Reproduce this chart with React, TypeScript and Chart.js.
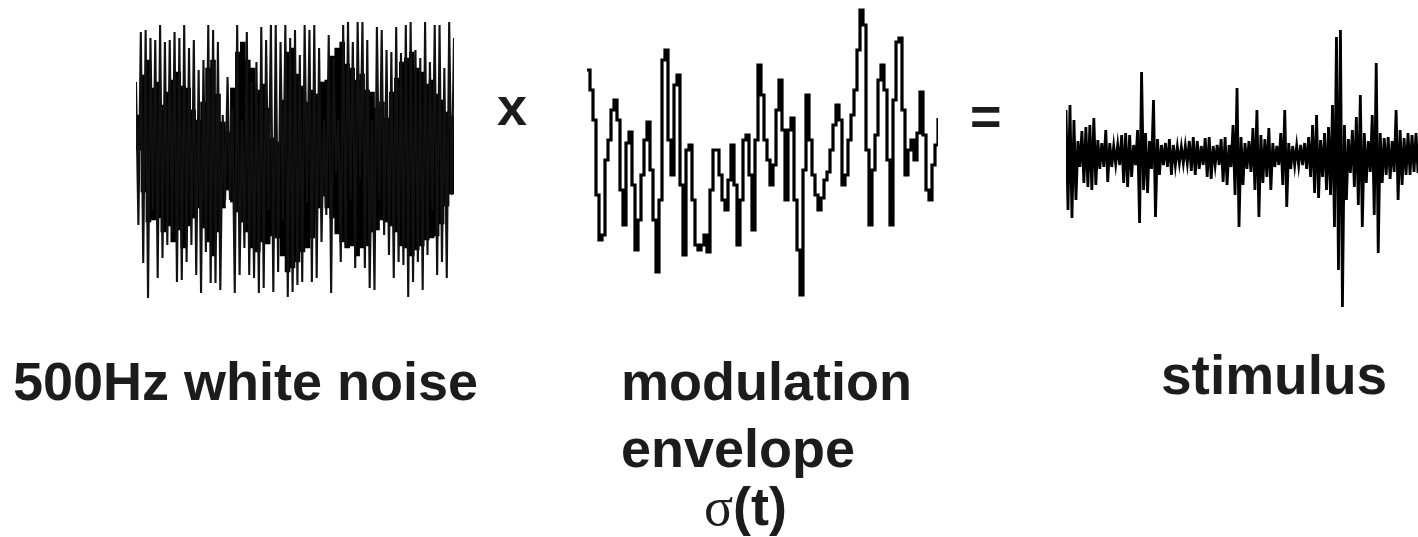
import { useEffect, useRef } from "react";
import { Chart, registerables } from "chart.js";

Chart.register(...registerables);

// 500 Hz white noise carrier: successive excursions of the trace (up > 0, down < 0)
const noiseSamples = [
  78, -65, 128, -103, 130, -138, 122, -50, 120, -118,
  135, -98, 118, -85, 120, -72, 128, -122, 122, -120,
  135, -102, 112, -85, 120, -115, 90, -133, 100, -92,
  135, -123, 130, -123, 118, -130, 45, -40, 83, -40,
  52, -133, 135, -115, 40, -88, 128, -115, 78, -118,
  98, -133, 133, -128, 120, -50, 135, -132, 135, -112,
  118, -60, 135, -137, 122, -132, 130, -125, 105, -122,
  135, -42, 130, -122, 135, -118, 112, -82, 40, -55,
  125, -133, 102, -12, 40, -102, 135, -85, 138, -40,
  118, -108, 138, -18, 138, -108, 120, -128, 40, -130,
  133, -40, 130, -75, 110, -95, 108, -118, 133, -102,
  107, -105, 135, -137, 138, -122, 110, -102, 102, -130,
  138, -95, 98, -50, 135, -115, 135, -102, 92, -118,
  138, -35, 122,
];

// Dense central band of the noise trace, block by block
const noiseBandHigh = [
  45, 85, 100, 72, 78, 55, 68, 80, 88, 74,
  72, 50, 40, 58, 92, 100, 66, 38, 28, 72,
  108, 118, 100, 92, 70, 76, 52, 22, 18, 60,
  108, 112, 86, 74, 58, 70, 66, 78, 80, 104,
  112, 118, 96, 92, 80, 86, 70, 68, 52, 58,
  42, 68, 82, 98, 102, 108, 92, 88, 76, 80,
  66, 60, 48, 44,
];
const noiseBandLow = [
  10, -32, -62, -60, -58, -72, -66, -82, -70, -88,
  -66, -58, -48, -68, -82, -96, -72, -48, -30, -42,
  -52, -62, -72, -88, -92, -82, -84, -76, -78, -96,
  -112, -108, -102, -92, -88, -78, -48, -36, -48, -58,
  -74, -82, -88, -86, -96, -88, -86, -72, -70, -60,
  -62, -66, -72, -86, -88, -96, -90, -86, -80, -78,
  -76, -64, -46, -34,
];

// Modulation envelope sigma(t), one value per step
const envelopeSigma = [
  235, 215, 185, 110, 65, 70, 145, 165, 195, 205,
  185, 115, 80, 162, 173, 120, 55, 85, 130, 165,
  183, 135, 85, 33, 105, 245, 255, 165, 130, 220,
  230, 120, 50, 155, 160, 105, 60, 55, 60, 70,
  53, 115, 155, 155, 130, 105, 95, 125, 160, 120,
  60, 105, 165, 170, 130, 75, 165, 240, 210, 165,
  145, 120, 140, 195, 225, 175, 105, 175, 187, 105,
  55, 10, 135, 210, 165, 130, 110, 95, 107, 125,
  133, 155, 180, 200, 185, 120, 130, 165, 190, 215,
  255, 295, 280, 155, 80, 135, 170, 225, 240, 215,
  145, 80, 205, 263, 267, 195, 130, 155, 165, 145,
  172, 213, 170, 115, 105, 140, 160, 187,
];

// Resulting stimulus (noise x envelope), alternating up / down excursions
const stimulusSamples = [
  45, -55, 50, -63, 35, -45, 14, -12, 24, -28,
  28, -32, 30, -35, 37, -30, 15, -14, 12, -12,
  25, -27, 12, -12, 9, -9, 10, -10, 20, -28,
  22, -32, 20, -22, 10, -10, 25, -68, 83, -35,
  22, -38, 14, -14, 55, -62, 16, -20, 10, -10,
  12, -12, 16, -20, 10, -10, 8, -8, 8, -8,
  9, -8, 14, -16, 18, -20, 14, -14, 9, -10,
  17, -22, 18, -24, 9, -10, 10, -10, 16, -27,
  18, -30, 10, -12, 30, -40, 67, -72, 18, -30,
  12, -14, 14, -17, 27, -35, 45, -62, 20, -28,
  16, -22, 27, -35, 12, -12, 9, -10, 22, -30,
  45, -52, 12, -14, 9, -10, 9, -10, 10, -10,
  12, -14, 18, -22, 30, -38, 40, -43, 15, -22,
  22, -35, 28, -40, 50, -72, 118, -115, 125, -152,
  30, -45, 16, -18, 25, -32, 38, -50, 60, -72,
  22, -28, 14, -17, 40, -60, 92, -98, 22, -28,
  17, -20, 18, -24, 14, -17, 45, -45, 25, -30,
  17, -20, 22, -20, 20, -17, 22, -18,
];

type Box = { left: number; top: number; width: number; height: number };

function bareOptions(yMin: number, yMax: number) {
  return {
    responsive: false,
    animation: false as const,
    devicePixelRatio: 1,
    events: [],
    layout: { padding: 0 },
    plugins: { legend: { display: false }, tooltip: { enabled: false } },
    elements: { point: { radius: 0 } },
    scales: {
      x: { display: false },
      y: { display: false, min: yMin, max: yMax },
    },
  };
}

function TraceCanvas({ box, make }: { box: Box; make: () => any }) {
  const ref = useRef<HTMLCanvasElement>(null);
  useEffect(() => {
    const chart = new Chart(ref.current as HTMLCanvasElement, make());
    return () => chart.destroy();
  }, []);
  return (
    <canvas
      ref={ref}
      width={box.width}
      height={box.height}
      style={{
        position: "absolute",
        left: box.left,
        top: box.top,
        width: box.width,
        height: box.height,
      }}
    />
  );
}

const noiseBox: Box = { left: 136, top: 15, width: 318, height: 290 };
const envelopeBox: Box = { left: 587, top: 0, width: 351, height: 305 };
const stimulusBox: Box = { left: 1066, top: 25, width: 352, height: 290 };

const makeNoiseBand = () => ({
  type: "bar",
  data: {
    labels: noiseBandHigh.map((_, i) => i),
    datasets: [
      {
        data: noiseBandLow.map((lo, i) => [lo, noiseBandHigh[i]]),
        backgroundColor: "#000",
        borderWidth: 0,
        barPercentage: 1,
        categoryPercentage: 1,
      },
    ],
  },
  options: bareOptions(-145, 145),
});

const makeNoise = () => ({
  type: "line",
  data: {
    labels: noiseSamples.map((_, i) => i),
    datasets: [
      {
        data: noiseSamples,
        borderColor: "#111",
        borderWidth: 2.1,
        tension: 0,
      },
    ],
  },
  options: bareOptions(-145, 145),
});

const makeEnvelope = () => ({
  type: "line",
  data: {
    labels: envelopeSigma.map((_, i) => i),
    datasets: [
      {
        data: envelopeSigma,
        borderColor: "#000",
        borderWidth: 3.2,
        stepped: true,
      },
    ],
  },
  options: bareOptions(0, 305),
});

const makeStimulus = () => ({
  type: "line",
  data: {
    labels: stimulusSamples.map((_, i) => i),
    datasets: [
      {
        data: stimulusSamples,
        borderColor: "#000",
        borderWidth: 2.8,
        tension: 0,
      },
    ],
  },
  options: bareOptions(-160, 130),
});

const labelStyle = (left: number, baseline: number): React.CSSProperties => ({
  position: "absolute",
  left,
  top: baseline - 46,
  fontSize: 54,
  lineHeight: "54px",
  whiteSpace: "nowrap",
});

export default function App() {
  return (
    <div
      style={{
        position: "absolute",
        left: 0,
        top: 0,
        width: 1418,
        height: 537,
        background: "#fff",
        overflow: "hidden",
        fontFamily: '"Liberation Sans", Arial, sans-serif',
        fontWeight: 700,
        color: "#1c1c1c",
      }}
    >
      <TraceCanvas box={noiseBox} make={makeNoiseBand} />
      <TraceCanvas box={noiseBox} make={makeNoise} />
      <TraceCanvas box={envelopeBox} make={makeEnvelope} />
      <TraceCanvas box={stimulusBox} make={makeStimulus} />

      <span style={labelStyle(497, 125)}>x</span>
      <span style={labelStyle(970, 135)}>=</span>

      <span style={labelStyle(13, 400)}>500Hz white noise</span>
      <span style={labelStyle(621, 400)}>modulation</span>
      <span style={labelStyle(621, 467)}>envelope</span>
      <span style={labelStyle(704, 525)}>
        <span style={{ fontFamily: '"Liberation Serif", "DejaVu Serif", serif', fontWeight: 400 }}>σ</span>
        (t)
      </span>
      <span style={{ ...labelStyle(1161, 394), fontSize: 55 }}>stimulus</span>
    </div>
  );
}
